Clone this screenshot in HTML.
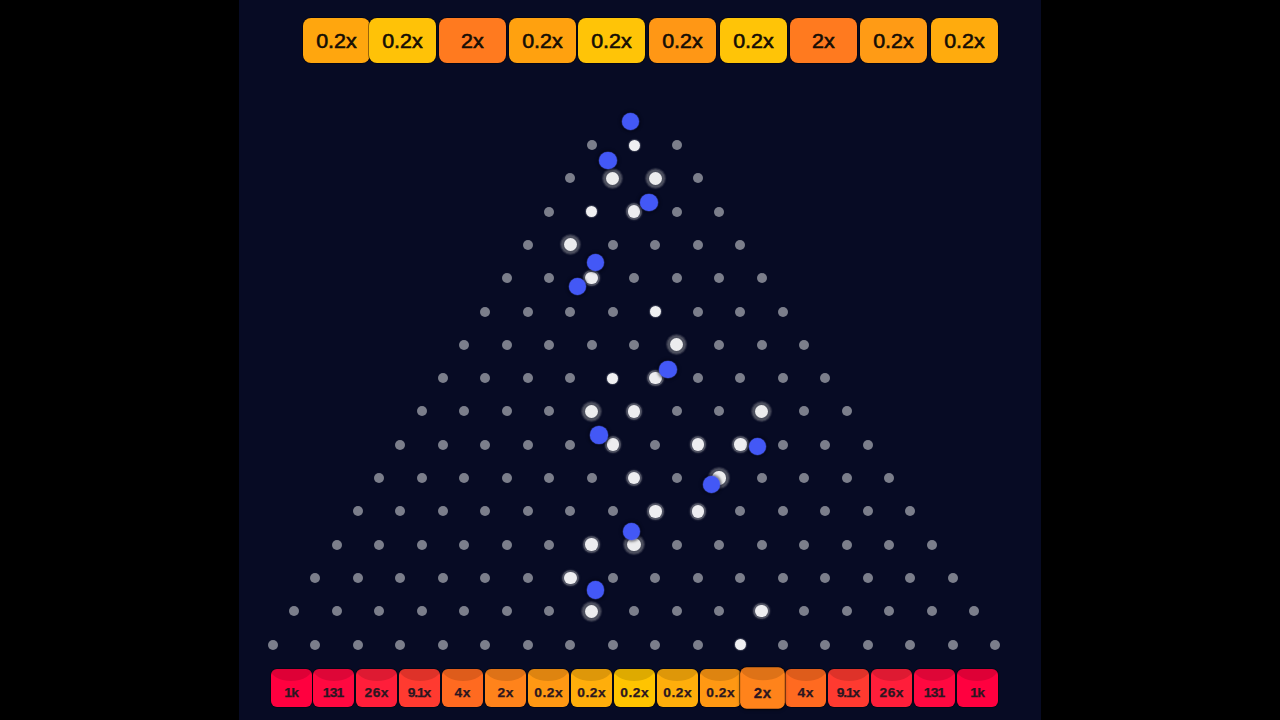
<!DOCTYPE html>
<html><head><meta charset="utf-8">
<style>
html,body{margin:0;padding:0;width:1280px;height:720px;overflow:hidden;background:#000;}
body{position:relative;font-family:"Liberation Sans",sans-serif;}
.panel{position:absolute;left:239px;top:0;width:802px;height:720px;background:#070b24;}
.p{position:absolute;width:10px;height:10px;margin:-5px 0 0 -5px;border-radius:50%;background:#7b7e8b;}
.p.s{background:#f0f0f2;width:11px;height:11px;margin:-5.5px 0 0 -5.5px;box-shadow:0 0 1px 1px rgba(120,124,140,.45);}
.p.m{background:#ededf0;width:12.5px;height:12.5px;margin:-6.25px 0 0 -6.25px;box-shadow:0 0 0 1.8px rgba(90,93,108,.85),0 0 1.5px 2.6px rgba(80,83,98,.45);}
.p.l{background:#ececee;width:13.2px;height:13.2px;margin:-6.6px 0 0 -6.6px;box-shadow:0 0 0 2.6px rgba(76,79,94,1),0 0 1.2px 3.8px rgba(92,95,110,.55);}
.ball{position:absolute;width:17.6px;height:17.6px;margin:-8.8px 0 0 -8.8px;border-radius:50%;background:#4358f6;box-shadow:0 0 1px 0.5px rgba(90,110,255,.45),0 0 2.5px 2px rgba(0,0,12,.45);}
.h{position:absolute;top:18px;width:67px;height:45px;border-radius:8px;color:#150d05;font-size:19.5px;line-height:47px;font-weight:normal;-webkit-text-stroke:0.55px #150d05;letter-spacing:0px;text-align:center;box-shadow:0 0 0 1px rgba(0,0,0,.4);}
.h span{display:inline-block;transform:scaleX(1.1);}
.bk{position:absolute;top:669.2px;width:41.0px;height:38px;border-radius:6px;overflow:hidden;box-shadow:0 0 0 1px rgba(0,0,0,.35);}
.bk::before{content:"";position:absolute;left:-1.5px;right:-1.5px;top:-16.5px;height:28px;border-radius:50%;background:rgba(0,0,0,.13);}
.bk span{position:absolute;left:0;right:0;top:16.8px;-webkit-text-stroke:0.25px #2b1620;text-align:center;font-weight:bold;font-size:13px;line-height:13px;letter-spacing:0.5px;text-indent:0.5px;transform:scaleX(1.06);color:#2b1620;}
.bk.big{transform:scale(1.09);z-index:2;box-shadow:0 0 0 1px rgba(0,0,0,.45),0 1px 3px rgba(0,0,0,.4);}
</style></head><body>
<div class="panel"></div>
<div class="h" style="left:302.8px;background:#ffa60e"><span>0.2x</span></div><div class="h" style="left:369.4px;background:#ffc207"><span>0.2x</span></div><div class="h" style="left:438.7px;background:#ff7a1f"><span>2x</span></div><div class="h" style="left:508.9px;background:#ffa10f"><span>0.2x</span></div><div class="h" style="left:578.4px;background:#ffc407"><span>0.2x</span></div><div class="h" style="left:649.2px;background:#ff9715"><span>0.2x</span></div><div class="h" style="left:720.0px;background:#ffc407"><span>0.2x</span></div><div class="h" style="left:789.6px;background:#ff7a1f"><span>2x</span></div><div class="h" style="left:859.8px;background:#ff9b15"><span>0.2x</span></div><div class="h" style="left:930.7px;background:#ffab0d"><span>0.2x</span></div>
<i class="p" style="left:591.50px;top:145.00px"></i><i class="p s" style="left:634.00px;top:145.00px"></i><i class="p" style="left:676.50px;top:145.00px"></i><i class="p" style="left:570.25px;top:178.30px"></i><i class="p l" style="left:612.75px;top:178.30px"></i><i class="p l" style="left:655.25px;top:178.30px"></i><i class="p" style="left:697.75px;top:178.30px"></i><i class="p" style="left:549.00px;top:211.60px"></i><i class="p s" style="left:591.50px;top:211.60px"></i><i class="p m" style="left:634.00px;top:211.60px"></i><i class="p" style="left:676.50px;top:211.60px"></i><i class="p" style="left:719.00px;top:211.60px"></i><i class="p" style="left:527.75px;top:244.90px"></i><i class="p l" style="left:570.25px;top:244.90px"></i><i class="p" style="left:612.75px;top:244.90px"></i><i class="p" style="left:655.25px;top:244.90px"></i><i class="p" style="left:697.75px;top:244.90px"></i><i class="p" style="left:740.25px;top:244.90px"></i><i class="p" style="left:506.50px;top:278.20px"></i><i class="p" style="left:549.00px;top:278.20px"></i><i class="p m" style="left:591.50px;top:278.20px"></i><i class="p" style="left:634.00px;top:278.20px"></i><i class="p" style="left:676.50px;top:278.20px"></i><i class="p" style="left:719.00px;top:278.20px"></i><i class="p" style="left:761.50px;top:278.20px"></i><i class="p" style="left:485.25px;top:311.50px"></i><i class="p" style="left:527.75px;top:311.50px"></i><i class="p" style="left:570.25px;top:311.50px"></i><i class="p" style="left:612.75px;top:311.50px"></i><i class="p s" style="left:655.25px;top:311.50px"></i><i class="p" style="left:697.75px;top:311.50px"></i><i class="p" style="left:740.25px;top:311.50px"></i><i class="p" style="left:782.75px;top:311.50px"></i><i class="p" style="left:464.00px;top:344.80px"></i><i class="p" style="left:506.50px;top:344.80px"></i><i class="p" style="left:549.00px;top:344.80px"></i><i class="p" style="left:591.50px;top:344.80px"></i><i class="p" style="left:634.00px;top:344.80px"></i><i class="p l" style="left:676.50px;top:344.80px"></i><i class="p" style="left:719.00px;top:344.80px"></i><i class="p" style="left:761.50px;top:344.80px"></i><i class="p" style="left:804.00px;top:344.80px"></i><i class="p" style="left:442.75px;top:378.10px"></i><i class="p" style="left:485.25px;top:378.10px"></i><i class="p" style="left:527.75px;top:378.10px"></i><i class="p" style="left:570.25px;top:378.10px"></i><i class="p s" style="left:612.75px;top:378.10px"></i><i class="p m" style="left:655.25px;top:378.10px"></i><i class="p" style="left:697.75px;top:378.10px"></i><i class="p" style="left:740.25px;top:378.10px"></i><i class="p" style="left:782.75px;top:378.10px"></i><i class="p" style="left:825.25px;top:378.10px"></i><i class="p" style="left:421.50px;top:411.40px"></i><i class="p" style="left:464.00px;top:411.40px"></i><i class="p" style="left:506.50px;top:411.40px"></i><i class="p" style="left:549.00px;top:411.40px"></i><i class="p l" style="left:591.50px;top:411.40px"></i><i class="p m" style="left:634.00px;top:411.40px"></i><i class="p" style="left:676.50px;top:411.40px"></i><i class="p" style="left:719.00px;top:411.40px"></i><i class="p l" style="left:761.50px;top:411.40px"></i><i class="p" style="left:804.00px;top:411.40px"></i><i class="p" style="left:846.50px;top:411.40px"></i><i class="p" style="left:400.25px;top:444.70px"></i><i class="p" style="left:442.75px;top:444.70px"></i><i class="p" style="left:485.25px;top:444.70px"></i><i class="p" style="left:527.75px;top:444.70px"></i><i class="p" style="left:570.25px;top:444.70px"></i><i class="p m" style="left:612.75px;top:444.70px"></i><i class="p" style="left:655.25px;top:444.70px"></i><i class="p m" style="left:697.75px;top:444.70px"></i><i class="p m" style="left:740.25px;top:444.70px"></i><i class="p" style="left:782.75px;top:444.70px"></i><i class="p" style="left:825.25px;top:444.70px"></i><i class="p" style="left:867.75px;top:444.70px"></i><i class="p" style="left:379.00px;top:478.00px"></i><i class="p" style="left:421.50px;top:478.00px"></i><i class="p" style="left:464.00px;top:478.00px"></i><i class="p" style="left:506.50px;top:478.00px"></i><i class="p" style="left:549.00px;top:478.00px"></i><i class="p" style="left:591.50px;top:478.00px"></i><i class="p m" style="left:634.00px;top:478.00px"></i><i class="p" style="left:676.50px;top:478.00px"></i><i class="p l" style="left:719.00px;top:478.00px"></i><i class="p" style="left:761.50px;top:478.00px"></i><i class="p" style="left:804.00px;top:478.00px"></i><i class="p" style="left:846.50px;top:478.00px"></i><i class="p" style="left:889.00px;top:478.00px"></i><i class="p" style="left:357.75px;top:511.30px"></i><i class="p" style="left:400.25px;top:511.30px"></i><i class="p" style="left:442.75px;top:511.30px"></i><i class="p" style="left:485.25px;top:511.30px"></i><i class="p" style="left:527.75px;top:511.30px"></i><i class="p" style="left:570.25px;top:511.30px"></i><i class="p" style="left:612.75px;top:511.30px"></i><i class="p m" style="left:655.25px;top:511.30px"></i><i class="p m" style="left:697.75px;top:511.30px"></i><i class="p" style="left:740.25px;top:511.30px"></i><i class="p" style="left:782.75px;top:511.30px"></i><i class="p" style="left:825.25px;top:511.30px"></i><i class="p" style="left:867.75px;top:511.30px"></i><i class="p" style="left:910.25px;top:511.30px"></i><i class="p" style="left:336.50px;top:544.60px"></i><i class="p" style="left:379.00px;top:544.60px"></i><i class="p" style="left:421.50px;top:544.60px"></i><i class="p" style="left:464.00px;top:544.60px"></i><i class="p" style="left:506.50px;top:544.60px"></i><i class="p" style="left:549.00px;top:544.60px"></i><i class="p m" style="left:591.50px;top:544.60px"></i><i class="p l" style="left:634.00px;top:544.60px"></i><i class="p" style="left:676.50px;top:544.60px"></i><i class="p" style="left:719.00px;top:544.60px"></i><i class="p" style="left:761.50px;top:544.60px"></i><i class="p" style="left:804.00px;top:544.60px"></i><i class="p" style="left:846.50px;top:544.60px"></i><i class="p" style="left:889.00px;top:544.60px"></i><i class="p" style="left:931.50px;top:544.60px"></i><i class="p" style="left:315.25px;top:577.90px"></i><i class="p" style="left:357.75px;top:577.90px"></i><i class="p" style="left:400.25px;top:577.90px"></i><i class="p" style="left:442.75px;top:577.90px"></i><i class="p" style="left:485.25px;top:577.90px"></i><i class="p" style="left:527.75px;top:577.90px"></i><i class="p m" style="left:570.25px;top:577.90px"></i><i class="p" style="left:612.75px;top:577.90px"></i><i class="p" style="left:655.25px;top:577.90px"></i><i class="p" style="left:697.75px;top:577.90px"></i><i class="p" style="left:740.25px;top:577.90px"></i><i class="p" style="left:782.75px;top:577.90px"></i><i class="p" style="left:825.25px;top:577.90px"></i><i class="p" style="left:867.75px;top:577.90px"></i><i class="p" style="left:910.25px;top:577.90px"></i><i class="p" style="left:952.75px;top:577.90px"></i><i class="p" style="left:294.00px;top:611.20px"></i><i class="p" style="left:336.50px;top:611.20px"></i><i class="p" style="left:379.00px;top:611.20px"></i><i class="p" style="left:421.50px;top:611.20px"></i><i class="p" style="left:464.00px;top:611.20px"></i><i class="p" style="left:506.50px;top:611.20px"></i><i class="p" style="left:549.00px;top:611.20px"></i><i class="p l" style="left:591.50px;top:611.20px"></i><i class="p" style="left:634.00px;top:611.20px"></i><i class="p" style="left:676.50px;top:611.20px"></i><i class="p" style="left:719.00px;top:611.20px"></i><i class="p m" style="left:761.50px;top:611.20px"></i><i class="p" style="left:804.00px;top:611.20px"></i><i class="p" style="left:846.50px;top:611.20px"></i><i class="p" style="left:889.00px;top:611.20px"></i><i class="p" style="left:931.50px;top:611.20px"></i><i class="p" style="left:974.00px;top:611.20px"></i><i class="p" style="left:272.75px;top:644.50px"></i><i class="p" style="left:315.25px;top:644.50px"></i><i class="p" style="left:357.75px;top:644.50px"></i><i class="p" style="left:400.25px;top:644.50px"></i><i class="p" style="left:442.75px;top:644.50px"></i><i class="p" style="left:485.25px;top:644.50px"></i><i class="p" style="left:527.75px;top:644.50px"></i><i class="p" style="left:570.25px;top:644.50px"></i><i class="p" style="left:612.75px;top:644.50px"></i><i class="p" style="left:655.25px;top:644.50px"></i><i class="p" style="left:697.75px;top:644.50px"></i><i class="p s" style="left:740.25px;top:644.50px"></i><i class="p" style="left:782.75px;top:644.50px"></i><i class="p" style="left:825.25px;top:644.50px"></i><i class="p" style="left:867.75px;top:644.50px"></i><i class="p" style="left:910.25px;top:644.50px"></i><i class="p" style="left:952.75px;top:644.50px"></i><i class="p" style="left:995.25px;top:644.50px"></i>
<b class="ball" style="left:630.50px;top:121.70px"></b><b class="ball" style="left:608.00px;top:160.50px"></b><b class="ball" style="left:649.10px;top:202.30px"></b><b class="ball" style="left:595.50px;top:262.50px"></b><b class="ball" style="left:577.50px;top:286.40px"></b><b class="ball" style="left:667.80px;top:369.50px"></b><b class="ball" style="left:599.20px;top:434.90px"></b><b class="ball" style="left:757.40px;top:446.60px"></b><b class="ball" style="left:711.70px;top:484.50px"></b><b class="ball" style="left:631.60px;top:531.40px"></b><b class="ball" style="left:595.60px;top:589.80px"></b>
<div class="bk" style="left:270.50px;background:#ff003f"><span style="letter-spacing:-0.6px;text-indent:-0.6px">1k</span></div><div class="bk" style="left:313.40px;background:#ff0840"><span style="letter-spacing:-0.8px;text-indent:-0.8px">131</span></div><div class="bk" style="left:356.30px;background:#ff1e3a"><span>26x</span></div><div class="bk" style="left:399.20px;background:#ff3a30"><span style="letter-spacing:-1.1px;text-indent:-1.1px">9.1x</span></div><div class="bk" style="left:442.10px;background:#ff6a20"><span>4x</span></div><div class="bk" style="left:485.00px;background:#ff831b"><span>2x</span></div><div class="bk" style="left:527.90px;background:#ff9813"><span>0.2x</span></div><div class="bk" style="left:570.80px;background:#ffae0b"><span>0.2x</span></div><div class="bk" style="left:613.70px;background:#ffc400"><span>0.2x</span></div><div class="bk" style="left:656.60px;background:#ffae0b"><span>0.2x</span></div><div class="bk" style="left:699.50px;background:#ff9813"><span>0.2x</span></div><div class="bk big" style="left:742.40px;background:#ff831b"><span>2x</span></div><div class="bk" style="left:785.30px;background:#ff6a20"><span>4x</span></div><div class="bk" style="left:828.20px;background:#ff3a30"><span style="letter-spacing:-1.1px;text-indent:-1.1px">9.1x</span></div><div class="bk" style="left:871.10px;background:#ff1e3a"><span>26x</span></div><div class="bk" style="left:914.00px;background:#ff0840"><span style="letter-spacing:-0.8px;text-indent:-0.8px">131</span></div><div class="bk" style="left:956.90px;background:#ff003f"><span style="letter-spacing:-0.6px;text-indent:-0.6px">1k</span></div>
</body></html>
